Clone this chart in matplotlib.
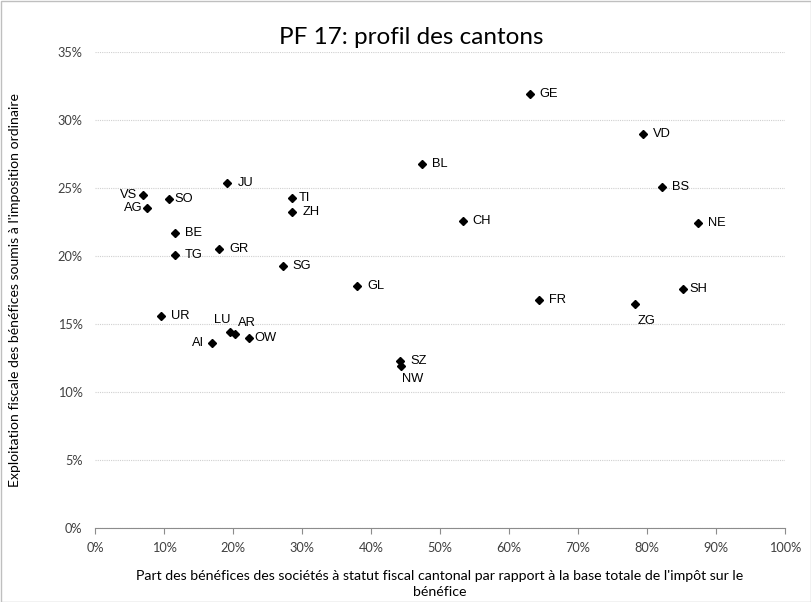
import matplotlib
matplotlib.use("Agg")
import matplotlib.pyplot as plt
from matplotlib.ticker import PercentFormatter, MultipleLocator
from matplotlib.patches import Rectangle

# Cantons and their values (x: share of profits of companies with cantonal tax status, y: tax exploitation)
cantons = ["GE", "VD", "BS", "NE", "CH", "SH", "FR", "ZG", "BL", "JU", "VS", "SO", "AG",
           "TI", "ZH", "BE", "GR", "TG", "SG", "UR", "LU", "AR", "OW", "AI", "GL", "SZ", "NW"]
part_benef = [63.0, 79.4, 82.2, 87.4, 53.3, 85.2, 64.3, 78.3, 47.4, 19.2, 6.9, 10.7, 7.6,
              28.6, 28.6, 11.6, 18.0, 11.6, 27.2, 9.5, 19.6, 20.3, 22.3, 17.0, 38.0, 44.2, 44.4]
exploitation = [31.9, 29.0, 25.1, 22.4, 22.6, 17.6, 16.8, 16.5, 26.8, 25.4, 24.5, 24.2, 23.5,
                24.3, 23.2, 21.7, 20.5, 20.1, 19.3, 15.6, 14.4, 14.3, 14.0, 13.6, 17.8, 12.3, 11.9]

# label placement (offset in pixels, alignment); default is to the right
label_pos = {
    "VS": (-5, 0, "right", "center"),
    "AG": (-5, 0, "right", "center"),
    "AI": (-8, 0, "right", "center"),
    "LU": (-8, 12, "center", "center"),
    "AR": (12, 11, "center", "center"),
    "ZG": (11, -17, "center", "center"),
    "NW": (11, -13, "center", "center"),
    "SO": (6, 0, "left", "center"),
    "TI": (6, 0, "left", "center"),
    "OW": (6, 0, "left", "center"),
    "SH": (7, 0, "left", "center"),
}

fig = plt.figure(figsize=(8.12, 6.02), dpi=100)
ax = fig.add_axes([95 / 812, 1 - 528 / 602, 690 / 812, 476 / 602])

ax.plot(part_benef, exploitation, "D", color="black", markersize=4.3, linestyle="none", zorder=3)

for name, xv, yv in zip(cantons, part_benef, exploitation):
    dx, dy, ha, va = label_pos.get(name, (10, 0, "left", "center"))
    ax.annotate(name, (xv, yv), xytext=(dx, dy), textcoords="offset pixels",
                ha=ha, va=va, fontsize=9.3, family="Liberation Sans", color="black")

ax.set_xlim(0, 100)
ax.set_ylim(0, 35)
ax.xaxis.set_major_locator(MultipleLocator(10))
ax.yaxis.set_major_locator(MultipleLocator(5))
ax.xaxis.set_major_formatter(PercentFormatter(decimals=0))
ax.yaxis.set_major_formatter(PercentFormatter(decimals=0))
ax.grid(axis="y", color="#d0d0d0", linewidth=0.8, linestyle=(0, (1, 1)))
ax.set_axisbelow(True)
for s in ["top", "right", "left"]:
    ax.spines[s].set_visible(False)
ax.spines["bottom"].set_color("#8c8c8c")
ax.tick_params(axis="x", direction="out", length=4, color="#8c8c8c", pad=6)
ax.tick_params(axis="y", length=0, pad=9)
for lab in ax.get_xticklabels() + ax.get_yticklabels():
    lab.set_family("Lato")
    lab.set_fontsize(9.2)
    lab.set_color("#404040")

fig.text(0.506, 1 - 37 / 602, "PF 17: profil des cantons", ha="center", va="center",
         fontsize=17.5, family="Lato")
fig.text(440 / 812, 1 - 584 / 602,
         "Part des bénéfices des sociétés à statut fiscal cantonal par rapport à la base totale de l'impôt sur le\nbénéfice",
         ha="center", va="center", fontsize=10.2, family="Lato", linespacing=1.35)
fig.text(15 / 812, 1 - 290 / 602, "Exploitation fiscale des bénéfices soumis à l'imposition ordinaire",
         ha="center", va="center", rotation=90, fontsize=10.1, family="Lato")

fig.patches.append(Rectangle((0.5 / 812, 0.5 / 602), 1 - 1 / 812, 1 - 1 / 602, transform=fig.transFigure,
                             fill=False, edgecolor="#bfbfbf", linewidth=1))

fig.savefig("out.png", dpi=100)
